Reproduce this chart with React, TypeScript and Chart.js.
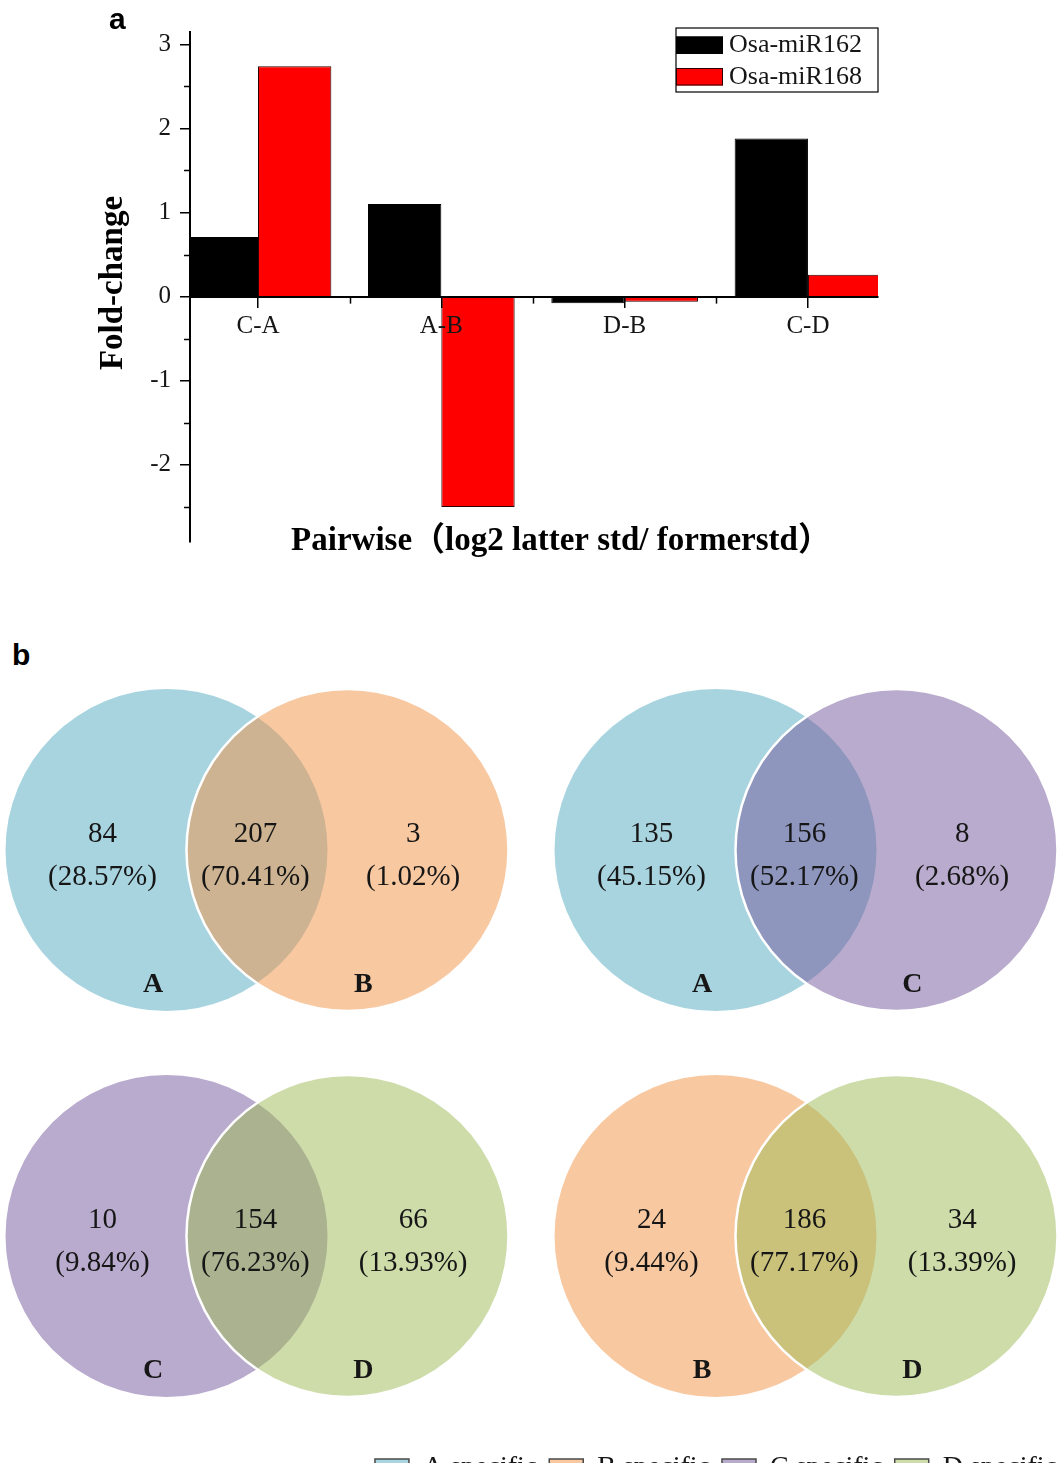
import React, { useEffect, useRef } from 'react';
import { Chart, registerables } from 'chart.js';

Chart.register(...registerables);

// ---------------- panel a : data ----------------
const PAIRS = ['C-A', 'A-B', 'D-B', 'C-D'];
const MIR162 = [0.71, 1.1, -0.08, 1.88];
const MIR168 = [2.74, -2.5, -0.06, 0.26];
const SERIES = ['Osa-miR162', 'Osa-miR168'];
const Y_TICKS = [-2, -1, 0, 1, 2, 3];
const X_TITLE = 'Pairwise（log2 latter std/ formerstd）';
const Y_TITLE = 'Fold-change';

// ---------------- panel b : data ----------------
const SETS = ['A', 'B', 'C', 'D'];
const SET_LEGEND = ['A specific', 'B specific', 'C specific', 'D specific'];
const VENN_LEFT = ['A', 'A', 'C', 'B'];
const VENN_RIGHT = ['B', 'C', 'D', 'D'];
const VENN_LEFT_ONLY = [84, 135, 10, 24];
const VENN_SHARED = [207, 156, 154, 186];
const VENN_RIGHT_ONLY = [3, 8, 66, 34];
const PCT_LEFT_ONLY = [28.57, 45.15, 9.84, 9.44];
const PCT_SHARED = [70.41, 52.17, 76.23, 77.17];
const PCT_RIGHT_ONLY = [1.02, 2.68, 13.93, 13.39];

// ---------------- styles ----------------
const SERIF = '"Liberation Serif", "Times New Roman", "Noto Sans CJK SC", serif';
const BAR_COLORS = ['#000000', '#ff0000'];
const BAR_BORDERS = ['#000000', '#2a0000'];
const SET_COLORS = ['#a8d4e0', '#f8c8a1', '#b9abcd', '#cddca9'];
const TEXT = '#161616';

// panel a geometry (canvas px)
const A_W = 1059;
const A_H = 570;
const PLOT_LEFT = 190;
const PLOT_RIGHT = 878;
const PLOT_TOP = 32;
const PLOT_BOTTOM = 542;
const X_MIN = -0.371;
const X_MAX = 3.382;
const Y_MIN = -2.917;
const Y_MAX = 3.146;

// venn geometry (in units of circle radius)
const UNIT_PX = 161;
const HALF_D = 0.562;
const REGION_X = [-0.96, -0.01, 0.97];
const NUM_Y = 0.1;
const PCT_Y = -0.172;
const NAME_X = [-0.645, 0.66];
const NAME_Y = -0.835;
const VENN_W = 514;
const VENN_H = 340;

function tint(hex: string, alpha = 0.5) {
  const n = parseInt(hex.slice(1), 16);
  const c = [(n >> 16) & 255, (n >> 8) & 255, n & 255].map((v) =>
    Math.max(0, Math.min(255, Math.round((v - 255 * (1 - alpha)) / alpha)))
  );
  return `rgba(${c[0]},${c[1]},${c[2]},${alpha})`;
}

const panelAPlugin = {
  id: 'panelA',
  afterDraw(chart: any) {
    const { ctx, chartArea: ca, scales } = chart;
    const xs = scales.x;
    const ys = scales.y;
    ctx.save();
    // minor ticks
    ctx.strokeStyle = '#000';
    ctx.lineWidth = 1.5;
    Y_TICKS.map((v) => v - 0.5).forEach((v) => {
      const py = Math.round(ys.getPixelForValue(v)) + 0.5;
      ctx.beginPath();
      ctx.moveTo(ca.left - 6, py);
      ctx.lineTo(ca.left, py);
      ctx.stroke();
    });
    const zero = ys.getPixelForValue(0);
    PAIRS.slice(0, -1).forEach((_, i) => {
      const px = Math.round(xs.getPixelForValue(i + 0.5)) + 0.5;
      ctx.beginPath();
      ctx.moveTo(px, zero);
      ctx.lineTo(px, zero + 7);
      ctx.stroke();
    });

    // boxed legend in the upper right corner
    const w = 202;
    const h = 64;
    const x0 = ca.right - w;
    const y0 = ca.top - 4;
    ctx.fillStyle = '#fff';
    ctx.fillRect(x0, y0, w, h);
    ctx.strokeStyle = '#000';
    ctx.lineWidth = 1.2;
    ctx.strokeRect(x0, y0, w, h);
    ctx.font = `26px ${SERIF}`;
    ctx.textAlign = 'left';
    ctx.textBaseline = 'middle';
    chart.data.datasets.forEach((ds: any, i: number) => {
      const sy = y0 + 8.5 + i * 31.5;
      ctx.fillStyle = ds.backgroundColor;
      ctx.fillRect(x0, sy, 47, 17.5);
      ctx.strokeStyle = ds.borderColor;
      ctx.lineWidth = 1;
      ctx.strokeRect(x0 + 0.5, sy + 0.5, 46, 16.5);
      ctx.fillStyle = TEXT;
      ctx.fillText(ds.label, x0 + 53, sy + 9);
    });

    // axis titles
    ctx.fillStyle = '#000';
    ctx.font = `bold 33px ${SERIF}`;
    ctx.textAlign = 'center';
    ctx.textBaseline = 'middle';
    ctx.fillText(X_TITLE, (ca.left + ca.right) / 2 + 27, ca.bottom - 1);
    ctx.translate(ca.left - 77, (ca.top + ca.bottom) / 2 - 4);
    ctx.rotate(-Math.PI / 2);
    ctx.fillText(Y_TITLE, 0, 0);
    ctx.restore();
  },
};

function BarPanel() {
  const ref = useRef<HTMLCanvasElement>(null);
  useEffect(() => {
    const chart = new Chart(ref.current as HTMLCanvasElement, {
      type: 'bar',
      data: {
        datasets: [MIR162, MIR168].map((vals, s) => ({
          label: SERIES[s],
          data: vals.map((v, i) => ({ x: i, y: v })),
          backgroundColor: BAR_COLORS[s],
          borderColor: BAR_BORDERS[s],
          borderWidth: 1,
          categoryPercentage: 0.8,
          barPercentage: 1,
          clip: 0,
        })),
      } as any,
      options: {
        animation: false,
        responsive: false,
        maintainAspectRatio: false,
        events: [],
        layout: {
          padding: { left: 0, right: A_W - PLOT_RIGHT, top: PLOT_TOP, bottom: A_H - PLOT_BOTTOM },
        },
        plugins: { legend: { display: false }, tooltip: { enabled: false } },
        scales: {
          x: {
            type: 'linear',
            position: { y: 0 },
            min: X_MIN,
            max: X_MAX,
            offset: false,
            afterBuildTicks: (s: any) => {
              s.ticks = PAIRS.map((_, i) => ({ value: i }));
            },
            ticks: {
              callback: (v: any) => PAIRS[Math.round(v)] ?? '',
              font: { family: SERIF, size: 25 },
              color: TEXT,
              padding: 5,
              maxRotation: 0,
              autoSkip: false,
              z: 2,
            },
            grid: {
              offset: false,
              drawOnChartArea: false,
              drawTicks: true,
              tickLength: 10,
              color: '#000',
              lineWidth: 1.5,
              z: 1,
            },
            border: { display: true, color: '#000', width: 2, z: 1 },
          },
          y: {
            type: 'linear',
            min: Y_MIN,
            max: Y_MAX,
            afterBuildTicks: (s: any) => {
              s.ticks = Y_TICKS.map((v) => ({ value: v }));
            },
            afterFit: (s: any) => {
              s.width = PLOT_LEFT;
            },
            ticks: {
              callback: (v: any) => String(v),
              font: { family: SERIF, size: 25 },
              color: TEXT,
              padding: 9,
            },
            grid: {
              drawOnChartArea: false,
              drawTicks: true,
              tickLength: 10,
              color: '#000',
              lineWidth: 1.5,
            },
            border: { display: true, color: '#000', width: 2, z: 1 },
          },
        },
      } as any,
      plugins: [panelAPlugin],
    });
    return () => chart.destroy();
  }, []);
  return (
    <canvas
      ref={ref}
      width={A_W}
      height={A_H}
      style={{ position: 'absolute', left: 0, top: 0, width: A_W, height: A_H }}
    />
  );
}

function makeVennTextPlugin(idx: number) {
  return {
    id: 'vennText' + idx,
    afterDatasetsDraw(chart: any) {
      const { ctx, scales } = chart;
      const xs = scales.x;
      const ys = scales.y;
      const counts = [VENN_LEFT_ONLY[idx], VENN_SHARED[idx], VENN_RIGHT_ONLY[idx]];
      const pcts = [PCT_LEFT_ONLY[idx], PCT_SHARED[idx], PCT_RIGHT_ONLY[idx]];
      const names = [VENN_LEFT[idx], VENN_RIGHT[idx]];
      ctx.save();
      ctx.fillStyle = TEXT;
      ctx.textAlign = 'center';
      ctx.textBaseline = 'middle';
      ctx.font = `29px ${SERIF}`;
      REGION_X.forEach((rx, k) => {
        const px = xs.getPixelForValue(rx);
        ctx.fillText(String(counts[k]), px, ys.getPixelForValue(NUM_Y));
        ctx.fillText(`(${pcts[k].toFixed(2)}%)`, px, ys.getPixelForValue(PCT_Y));
      });
      ctx.font = `bold 28px ${SERIF}`;
      names.forEach((nm, k) => {
        ctx.fillText(nm, xs.getPixelForValue(NAME_X[k]), ys.getPixelForValue(NAME_Y));
      });
      ctx.restore();
    },
  };
}

function VennPanel({ idx, left, top }: { idx: number; left: number; top: number }) {
  const ref = useRef<HTMLCanvasElement>(null);
  useEffect(() => {
    const li = SETS.indexOf(VENN_LEFT[idx]);
    const ri = SETS.indexOf(VENN_RIGHT[idx]);
    const halfX = VENN_W / 2 / UNIT_PX;
    const halfY = VENN_H / 2 / UNIT_PX;
    const chart = new Chart(ref.current as HTMLCanvasElement, {
      type: 'scatter',
      data: {
        datasets: [
          {
            label: VENN_LEFT[idx] + '-' + VENN_RIGHT[idx],
            data: [
              { x: -HALF_D, y: 0 },
              { x: HALF_D, y: 0 },
            ],
            pointBackgroundColor: [SET_COLORS[li], tint(SET_COLORS[ri])],
            pointBorderColor: ['rgba(0,0,0,0)', '#ffffff'],
            pointBorderWidth: [0, 2.5],
            pointRadius: (c: any) => {
              const s = c.chart.scales.x;
              return Math.abs(s.getPixelForValue(1) - s.getPixelForValue(0));
            },
            clip: false,
          },
        ],
      } as any,
      options: {
        animation: false,
        responsive: false,
        maintainAspectRatio: false,
        events: [],
        layout: { padding: 0 },
        plugins: { legend: { display: false }, tooltip: { enabled: false } },
        scales: {
          x: { type: 'linear', display: false, min: -halfX, max: halfX },
          y: { type: 'linear', display: false, min: -halfY, max: halfY },
        },
      } as any,
      plugins: [makeVennTextPlugin(idx)],
    });
    return () => chart.destroy();
  }, [idx]);
  return (
    <canvas
      ref={ref}
      width={VENN_W}
      height={VENN_H}
      style={{ position: 'absolute', left, top, width: VENN_W, height: VENN_H }}
    />
  );
}

function VennLegend() {
  const ref = useRef<HTMLCanvasElement>(null);
  useEffect(() => {
    const chart = new Chart(ref.current as HTMLCanvasElement, {
      type: 'bar',
      data: {
        labels: [],
        datasets: SET_LEGEND.map((lab, i) => ({
          label: lab,
          data: [],
          backgroundColor: SET_COLORS[i],
          borderColor: '#4a4a4a',
          borderWidth: 1.5,
        })),
      },
      options: {
        animation: false,
        responsive: false,
        maintainAspectRatio: false,
        events: [],
        layout: { padding: 0 },
        plugins: {
          tooltip: { enabled: false },
          legend: {
            display: true,
            position: 'top',
            align: 'end',
            labels: {
              boxWidth: 34,
              boxHeight: 18,
              padding: 12,
              color: TEXT,
              font: { family: SERIF, size: 28 },
            },
          },
        },
        scales: { x: { display: false }, y: { display: false } },
      } as any,
    });
    return () => chart.destroy();
  }, []);
  return (
    <canvas
      ref={ref}
      width={712}
      height={42}
      style={{ position: 'absolute', left: 357, top: 1442, width: 712, height: 42 }}
    />
  );
}

const panelLabel = (left: number, top: number): React.CSSProperties => ({
  position: 'absolute',
  left,
  top,
  fontFamily: '"Liberation Sans", Arial, sans-serif',
  fontWeight: 'bold',
  fontSize: 30,
  lineHeight: '30px',
  color: '#000',
});

export default function App() {
  return (
    <div
      style={{
        position: 'absolute',
        left: 0,
        top: 0,
        width: 1059,
        height: 1483,
        overflow: 'hidden',
        background: '#fff',
      }}
    >
      <BarPanel />
      <div style={panelLabel(109, 4)}>a</div>
      <div style={panelLabel(12, 640)}>b</div>
      {VENN_LEFT.map((_, i) => (
        <VennPanel key={i} idx={i} left={i % 2 === 0 ? 0 : 549} top={i < 2 ? 680 : 1066} />
      ))}
      <VennLegend />
    </div>
  );
}
